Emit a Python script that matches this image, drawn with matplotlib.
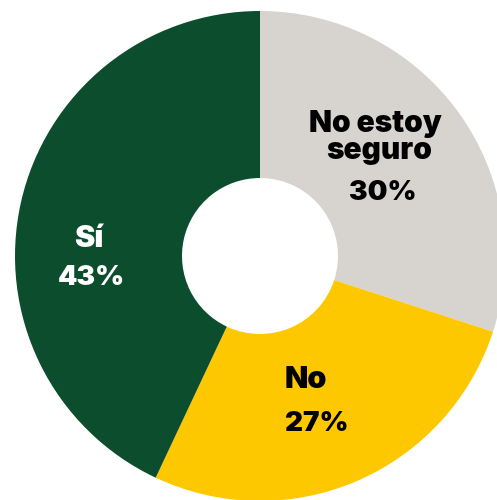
import matplotlib
matplotlib.use("Agg")
import matplotlib.pyplot as plt

labels = ["No estoy seguro", "No", "Sí"]
values = [30, 27, 43]
pct_labels = ["30%", "27%", "43%"]
colors = ["#d7d3ce", "#fec800", "#0b4d2d"]
text_colors = ["#000000", "#000000", "#ffffff"]

W, H = 497, 500
fig = plt.figure(figsize=(W / 100, H / 100), dpi=100)
# donut center at (260, 256) px, outer radius 245 px
cx, cy, R = 260, 256, 245
ax = fig.add_axes([(cx - R) / W, (H - cy - R) / H, 2 * R / W, 2 * R / H])
ax.axis("off")

ax.pie(values, colors=colors, startangle=90, counterclock=False,
       radius=1, wedgeprops=dict(width=1 - 78 / 245, linewidth=0))
ax.set_xlim(-1, 1)
ax.set_ylim(-1, 1)

def d(px, py):
    return (px - cx) / R, (cy - py) / R

fam = ["Inter", "DejaVu Sans"]

# (text, x_px, baseline_px, fontsize)
placements = [
    [("No estoy", 375, 132, 21.5), ("seguro", 379, 159, 21.5), (pct_labels[0], 383, 200, 20)],
    [("No", 285, 388, 22), (pct_labels[1], 285, 431, 20)],
    [("Sí", 89, 247, 22), (pct_labels[2], 91, 285, 20)],
]
for i, lines in enumerate(placements):
    for txt, px, py, fs in lines:
        x, y = d(px, py)
        ha = "left" if i == 1 else "center"
        ax.text(x, y, txt, ha=ha, va="baseline", color=text_colors[i],
                family=fam, fontweight="black", fontsize=fs)

fig.savefig("out.png", dpi=100)
